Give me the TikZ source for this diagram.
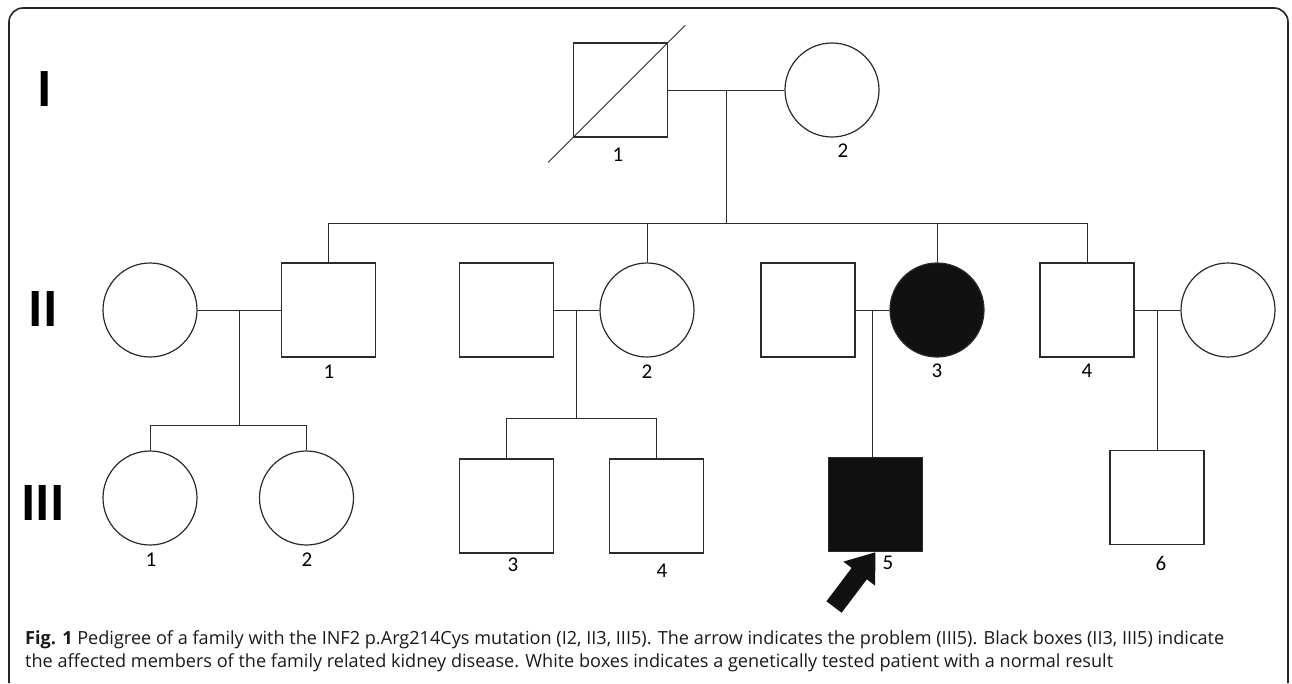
\documentclass[tikz,border=0pt]{standalone}
\usepackage{fontspec}
\setmainfont{Carlito}
\newfontfamily\capfont{Open Sans}
\usetikzlibrary{calc,arrows.meta,positioning}
\definecolor{linec}{HTML}{2B2B2B}
\definecolor{fillc}{HTML}{111111}
\tikzset{
  sq/.style={draw=linec,line width=1.2pt,minimum size=94pt,inner sep=0pt,fill=white},
  cir/.style={circle,draw=linec,line width=1.2pt,minimum size=94pt,inner sep=0pt,fill=white},
  aff/.style={fill=fillc},
  ln/.style={draw=linec,line width=0.8pt},
  num/.style={inner sep=0pt,font=\fontsize{21}{21}\selectfont},
  gen/.style={inner sep=0pt,font=\bfseries\fontsize{54}{54}\selectfont},
  captxt/.style={anchor=base west,inner sep=0pt,text=black!90,font=\capfont\fontsize{18.1}{18}\selectfont},
  bigar/.style={line width=19pt,fillc,-{Triangle[length=27pt,width=38pt]}}
}

\begin{document}
\begin{tikzpicture}[x=1pt,y=-1pt]
\useasboundingbox (0,0) rectangle (1292,683);
\draw[line width=1.6pt,rounded corners=14pt,black!85] (9,683) -- (9,8) -- (1288,8) -- (1288,683);
% generation I
\node[sq] (I1) at (620.5,90) {};
\node[cir] (I2) at (832,90) {};
\draw[linec,line width=1pt] ($(I1.south west)!-0.26!(I1.north east)$) -- ($(I1.north east)!-0.18!(I1.south west)$);
% generation II
\node[cir] (IIa) at (150,310) {};
\node[sq] (II1) at (328.5,310) {};
\node[sq] (IIb) at (506.5,310) {};
\node[cir] (II2) at (647,310) {};
\node[sq] (IIc) at (808,310) {};
\node[cir,aff] (II3) at (937,310) {};
\node[sq] (II4) at (1087,310) {};
\node[cir] (IId) at (1228,310) {};
% generation III
\node[cir] (III1) at (150,498) {};
\node[cir] (III2) at (306.5,498) {};
\node[sq] (III3) at (506.5,506) {};
\node[sq] (III4) at (656.5,506) {};
\node[sq,aff] (III5) at (875.5,504.5) {};
\node[sq] (III6) at (1157,497.5) {};
% couples
\foreach \a/\b/\m in {I1/I2/mI,IIa/II1/mA,IIb/II2/mB,IIc/II3/mC,II4/IId/mD}{
  \draw[ln] (\a.east) -- (\b.west);
  \coordinate (\m) at ($(\a.east)!0.5!(\b.west)$);
}
% sibships
\draw[ln] (mI) -- ++(0,133) coordinate (sI);
\draw[ln] (II1.north |- sI) -- (II4.north |- sI);
\foreach \n in {II1,II2,II3,II4} \draw[ln] (\n.north |- sI) -- (\n.north);
\draw[ln] (mA) -- ++(0,115) coordinate (sA);
\draw[ln] (III1.north |- sA) -- (III2.north |- sA);
\foreach \n in {III1,III2} \draw[ln] (\n.north |- sA) -- (\n.north);
\draw[ln] (mB) -- ++(0,108) coordinate (sB);
\draw[ln] (III3.north |- sB) -- (III4.north |- sB);
\foreach \n in {III3,III4} \draw[ln] (\n.north |- sB) -- (\n.north);
\draw[ln] (mC) -- (mC |- III5.north);
\draw[ln] (mD) -- (mD |- III6.north);
% numbers
\node[num] at (618,155) {1};
\node[num] at (843,151) {2};
\node[num] at (329,372) {1};
\node[num] at (647,372) {2};
\node[num] at (937,371) {3};
\node[num] at (1087,371) {4};
\node[num] at (151,560) {1};
\node[num] at (307,560) {2};
\node[num] at (513,565) {3};
\node[num] at (662,571) {4};
\node[num] at (888,563) {5};
\node[num] at (1161,563) {6};
\node[gen] at (45,89) {I};
\node[gen] at (43,309) {II};
\node[gen] at (43,503) {III};
% proband
\coordinate (tail) at (834,607);
\draw[bigar] (tail) -- (III5.south);
% caption
\node[captxt] (cap1) at (25,644) {\textbf{Fig. 1} Pedigree of a family with the INF2 p.Arg214Cys mutation (I2, II3, III5). The arrow indicates the problem (III5). Black boxes (II3, III5) indicate};
\node[captxt] (cap2) at (25,667) {the affected members of the family related kidney disease. White boxes indicates a genetically tested patient with a normal result};
\end{tikzpicture}
\end{document}
